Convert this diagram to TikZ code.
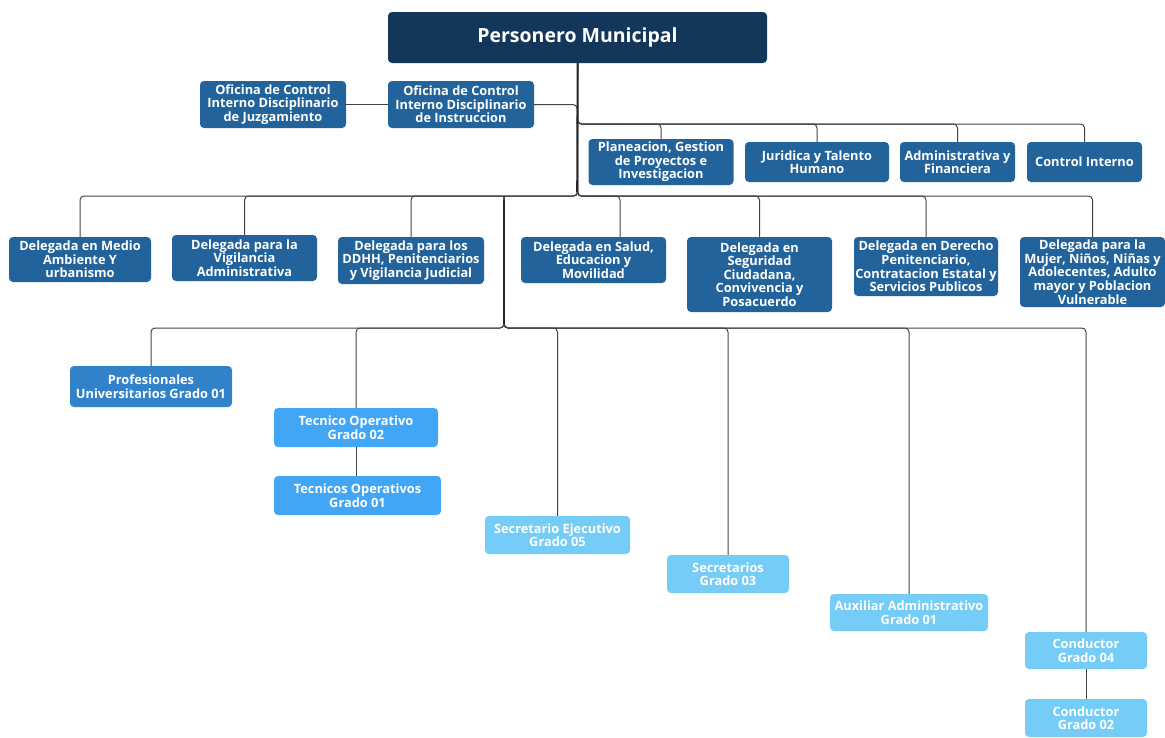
\documentclass[tikz,border=0pt]{standalone}
\usepackage{fontspec}
\setmainfont{Open Sans}
\usepackage{xcolor}
\usetikzlibrary{calc}

\definecolor{navy}{HTML}{12375A}
\definecolor{steel}{HTML}{22639B}
\definecolor{prof}{HTML}{3282C9}
\definecolor{tecn}{HTML}{42A6F7}
\definecolor{lightb}{HTML}{75CCF7}
\definecolor{wire}{HTML}{444444}

\begin{document}
\begin{tikzpicture}[x=1pt, y=-1pt, font=\bfseries\fontsize{12.8}{13.6}\selectfont]
	\tikzset{
		box/.style={rectangle, rounded corners=4pt, text=white, align=center, inner sep=0pt},
		head/.style={box, fill=navy, font=\bfseries\fontsize{19.5}{22}\selectfont},
		area/.style={box, fill=steel},
		profbox/.style={box, fill=prof},
		tecbox/.style={box, fill=tecn},
		auxbox/.style={box, fill=lightb},
		link/.style={draw=wire, line width=1pt, rounded corners=4pt},
		trunk/.style={draw=black!85, line width=1.6pt},
	}
	\useasboundingbox (0,0) rectangle (1165,737);

	% top
	\node[head, minimum width=379, minimum height=51] (pm) at (577.5,37.5) {Personero Municipal};
	\node[area, minimum width=146, minimum height=47] (ocj) at (273,104.5) {Oficina de Control\\Interno Disciplinario\\de Juzgamiento};
	\node[area, minimum width=146, minimum height=47] (oci) at (461,104.5) {Oficina de Control\\Interno Disciplinario\\de Instruccion};

	\node[area, minimum width=145, minimum height=46] (plan) at (661,162) {Planeacion, Gestion\\de Proyectos e\\Investigacion};
	\node[area, minimum width=144, minimum height=40] (jur) at (817,162) {Juridica y Talento\\Humano};
	\node[area, minimum width=115, minimum height=40] (adm) at (957.5,162) {Administrativa y\\Financiera};
	\node[area, minimum width=115, minimum height=40] (ci) at (1084.5,162) {Control Interno};

	% delegadas
	\node[area, minimum width=142, minimum height=45] (d1) at (80,259.5) {Delegada en Medio\\Ambiente Y\\urbanismo};
	\node[area, minimum width=145, minimum height=46] (d2) at (244.5,258) {Delegada para la\\Vigilancia\\Administrativa};
	\node[area, minimum width=146, minimum height=47] (d3) at (411,260.5) {Delegada para los\\DDHH, Penitenciarios\\y Vigilancia Judicial};
	\node[area, minimum width=145, minimum height=46] (d4) at (593.5,260) {Delegada en Salud,\\Educacion y\\Movilidad};
	\node[area, minimum width=145, minimum height=75] (d5) at (759.5,274.5) {Delegada en\\Seguridad\\Ciudadana,\\Convivencia y\\Posacuerdo};
	\node[area, minimum width=144, minimum height=59] (d6) at (926,266.5) {Delegada en Derecho\\Penitenciario,\\Contratacion Estatal y\\Servicios Publicos};
	\node[area, minimum width=145, minimum height=70] (d7) at (1092.5,272) {Delegada para la\\Mujer, Niños, Niñas y\\Adolecentes, Adulto\\mayor y Poblacion\\Vulnerable};

	% planta
	\node[profbox, minimum width=162, minimum height=41] (pu1) at (151,386.5) {Profesionales\\Universitarios Grado 01};
	\node[tecbox, minimum width=164, minimum height=39] (to2) at (356,427.5) {Tecnico Operativo\\Grado 02};
	\node[tecbox, minimum width=167, minimum height=39] (to1) at (357.5,495.5) {Tecnicos Operativos\\Grado 01};
	\node[auxbox, minimum width=145, minimum height=38] (se5) at (557.5,535) {Secretario Ejecutivo\\Grado 05};
	\node[auxbox, minimum width=122, minimum height=38] (sc3) at (728,574) {Secretarios\\Grado 03};
	\node[auxbox, minimum width=158, minimum height=37] (aa1) at (909,612.5) {Auxiliar Administrativo\\Grado 01};
	\node[auxbox, minimum width=122, minimum height=37] (cd4) at (1086,650.5) {Conductor\\Grado 04};
	\node[auxbox, minimum width=122, minimum height=38] (cd2) at (1086,718) {Conductor\\Grado 02};

	\coordinate (busA) at (577,124);
	\coordinate (busD) at (577,196);
	\coordinate (busL) at (504,196);
	\coordinate (busP) at (504,328);

	% lines
	\draw[link] (ocj.east) -- (oci.west);
	\draw[link] (oci.east) -| (busA);
	\foreach \n in {plan, jur, adm, ci}
		\draw[link] (pm.south) |- (\n.north |- busA) -- (\n.north);
	\foreach \n in {d1, d2, d3, d5, d6, d7}
		\draw[link] (pm.south) |- (\n.north |- busD) -- (\n.north);
	\draw[link] (pm.south) |- ([xshift=26.5]d4.north |- busD) -- ([xshift=26.5]d4.north);
	\foreach \n in {pu1, to2, se5, sc3, aa1, cd4}
		\draw[link] (busL) |- (\n.north |- busP) -- (\n.north);
	\draw[link] (to2.south) -- (to2.south |- to1.north);
	\draw[link] (cd4.south) -- (cd2.north);
	\draw[trunk] (pm.south) -- ([yshift=4]busD);
	\draw[trunk] ([yshift=-4]busL) -- ([yshift=4]busP);
\end{tikzpicture}
\end{document}
